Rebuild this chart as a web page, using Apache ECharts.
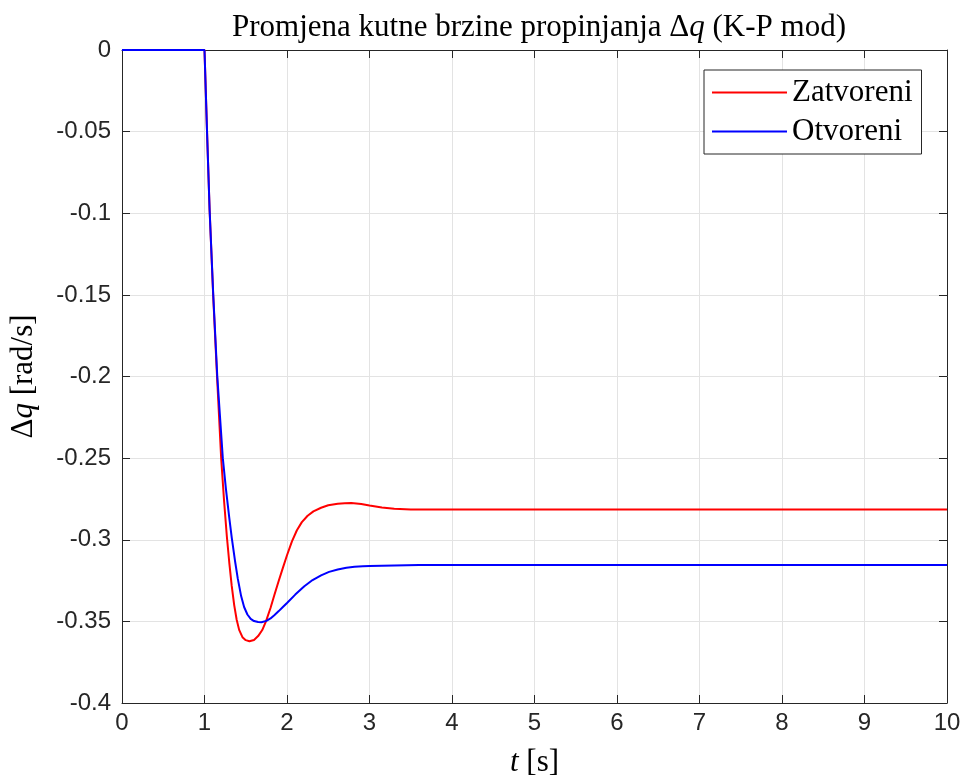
<!DOCTYPE html>
<html>
<head>
<meta charset="utf-8">
<script src="https://cdn.jsdelivr.net/npm/echarts@6/dist/echarts.min.js"></script>
<style>
  html, body { margin: 0; padding: 0; background: #fff; }
  #chart { width: 965px; height: 784px; }
</style>
</head>
<body>
<div id="chart"></div>
<script>
// Pitch-rate response Δq for the short-period (K-P) mode: closed loop vs open loop
const timeZatvoreni = [0, 0.5, 1.0, 1.032, 1.062, 1.105, 1.152, 1.202, 1.237, 1.271, 1.30, 1.33, 1.36, 1.39, 1.42, 1.46, 1.50, 1.545, 1.60, 1.65, 1.70, 1.745, 1.80, 1.846, 1.90, 1.95, 2.00, 2.06, 2.12, 2.18, 2.25, 2.32, 2.413, 2.50, 2.615, 2.70, 2.78, 2.90, 3.00, 3.15, 3.30, 3.50, 4.00, 5, 6, 7, 8, 9, 10];
const qZatvoreni = [0, 0, 0, -0.052, -0.098, -0.150, -0.200, -0.250, -0.276, -0.298, -0.3138, -0.3283, -0.3400, -0.3490, -0.3552, -0.3597, -0.3615, -0.3622, -0.3614, -0.3590, -0.3553, -0.3500, -0.3418, -0.3340, -0.3251, -0.3172, -0.3095, -0.3010, -0.2942, -0.2892, -0.2853, -0.2826, -0.2804, -0.2789, -0.2780, -0.2776, -0.2775, -0.2781, -0.2790, -0.2803, -0.2810, -0.2814, -0.2815, -0.2815, -0.2815, -0.2815, -0.2815, -0.2815, -0.2815];

const timeOtvoreni = [0, 0.5, 1.0, 1.032, 1.062, 1.106, 1.155, 1.222, 1.26, 1.30, 1.331, 1.37, 1.404, 1.444, 1.48, 1.52, 1.56, 1.60, 1.65, 1.69, 1.75, 1.80, 1.846, 1.90, 1.95, 2.00, 2.10, 2.21, 2.31, 2.413, 2.51, 2.615, 2.72, 2.818, 2.92, 3.00, 3.30, 3.60, 4.00, 5, 6, 7, 8, 9, 10];
const qOtvoreni = [0, 0, 0, -0.052, -0.098, -0.150, -0.200, -0.250, -0.2690, -0.2865, -0.2990, -0.3130, -0.3240, -0.3345, -0.3412, -0.3458, -0.3485, -0.3498, -0.3504, -0.3505, -0.3497, -0.3482, -0.3462, -0.3437, -0.3412, -0.3387, -0.3336, -0.3285, -0.3247, -0.3218, -0.3197, -0.3182, -0.3172, -0.3166, -0.3163, -0.3161, -0.3157, -0.3155, -0.3155, -0.3155, -0.3155, -0.3155, -0.3155, -0.3155, -0.3155];

const xTicks = [0, 1, 2, 3, 4, 5, 6, 7, 8, 9, 10];
const yTicks = [0, -0.05, -0.1, -0.15, -0.2, -0.25, -0.3, -0.35, -0.4];

const seriesNames = ['Zatvoreni', 'Otvoreni'];
const seriesColors = ['#ff0000', '#0000ff'];

const pairs = (ts, vs) => ts.map((t, i) => [t, vs[i]]);

const axisColor = '#262626';
const gridColor = '#e3e3e3';
const serif = '"Liberation Serif", "DejaVu Serif", serif';
const sans = '"Liberation Sans", Arial, sans-serif';
const serifSize = 31;

const chart = echarts.init(document.getElementById('chart'), null, { renderer: 'canvas' });

const baseX = {
  type: 'value', min: xTicks[0], max: xTicks[xTicks.length - 1], interval: 1,
  axisLine: { show: true, onZero: false, lineStyle: { color: axisColor, width: 1 } },
  axisTick: { show: true, inside: true, length: 8, lineStyle: { color: axisColor } },
  splitLine: { show: false }
};
const baseY = {
  type: 'value', min: yTicks[yTicks.length - 1], max: yTicks[0], interval: 0.05,
  axisLine: { show: true, onZero: false, lineStyle: { color: axisColor, width: 1 } },
  axisTick: { show: true, inside: true, length: 8, lineStyle: { color: axisColor } },
  splitLine: { show: false }
};

const serifRich = {
  d: { fontFamily: serif, fontSize: serifSize, color: '#000' },
  i: { fontFamily: serif, fontSize: serifSize, fontStyle: 'italic', color: '#000' }
};

chart.setOption({
  animation: false,
  backgroundColor: '#ffffff',
  title: {
    text: 'Promjena kutne brzine propinjanja {d|Δ}{i|q} (K-P mod)',
    left: 534, top: 7, textAlign: 'center',
    textStyle: {
      fontFamily: serif, fontSize: serifSize, fontWeight: 'normal', color: '#000',
      rich: serifRich
    }
  },
  grid: { left: 122, right: 18, top: 50, bottom: 81, containLabel: false },
  legend: {
    data: seriesNames,
    orient: 'vertical',
    left: 704, top: 70,
    padding: [7, 9, 7, 8],
    itemGap: 8,
    itemWidth: 75, itemHeight: 2,
    icon: 'rect',
    backgroundColor: '#ffffff',
    borderColor: axisColor, borderWidth: 1, borderRadius: 0,
    textStyle: { fontFamily: serif, fontSize: serifSize, color: '#000', lineHeight: 30 }
  },
  xAxis: [
    Object.assign({}, baseX, {
      position: 'bottom',
      splitLine: { show: true, lineStyle: { color: gridColor, width: 1 } },
      axisLabel: { show: true, color: axisColor, fontFamily: sans, fontSize: 24, margin: 8 },
      name: '{i|t} [s]', nameLocation: 'middle', nameGap: 44,
      nameTextStyle: { fontFamily: serif, fontSize: serifSize, color: '#000', rich: serifRich }
    }),
    Object.assign({}, baseX, { position: 'top', axisLabel: { show: false } })
  ],
  yAxis: [
    Object.assign({}, baseY, {
      position: 'left',
      splitLine: { show: true, lineStyle: { color: gridColor, width: 1 } },
      axisLabel: {
        show: true, color: axisColor, fontFamily: sans, fontSize: 24, margin: 11,
        formatter: v => String(Math.round(v * 100) / 100)
      },
      name: '{d|Δ}{i|q} [rad/s]', nameLocation: 'middle', nameGap: 83, nameRotate: 90,
      nameTextStyle: { fontFamily: serif, fontSize: serifSize, color: '#000', rich: serifRich }
    }),
    Object.assign({}, baseY, { position: 'right', axisLabel: { show: false } })
  ],
  series: [
    {
      name: seriesNames[0], type: 'line', xAxisIndex: 0, yAxisIndex: 0,
      data: pairs(timeZatvoreni, qZatvoreni),
      showSymbol: false, symbol: 'none', smooth: false,
      lineStyle: { color: seriesColors[0], width: 2 },
      itemStyle: { color: seriesColors[0] }
    },
    {
      name: seriesNames[1], type: 'line', xAxisIndex: 0, yAxisIndex: 0,
      data: pairs(timeOtvoreni, qOtvoreni),
      showSymbol: false, symbol: 'none', smooth: false,
      lineStyle: { color: seriesColors[1], width: 2 },
      itemStyle: { color: seriesColors[1] }
    }
  ]
});
</script>
</body>
</html>
